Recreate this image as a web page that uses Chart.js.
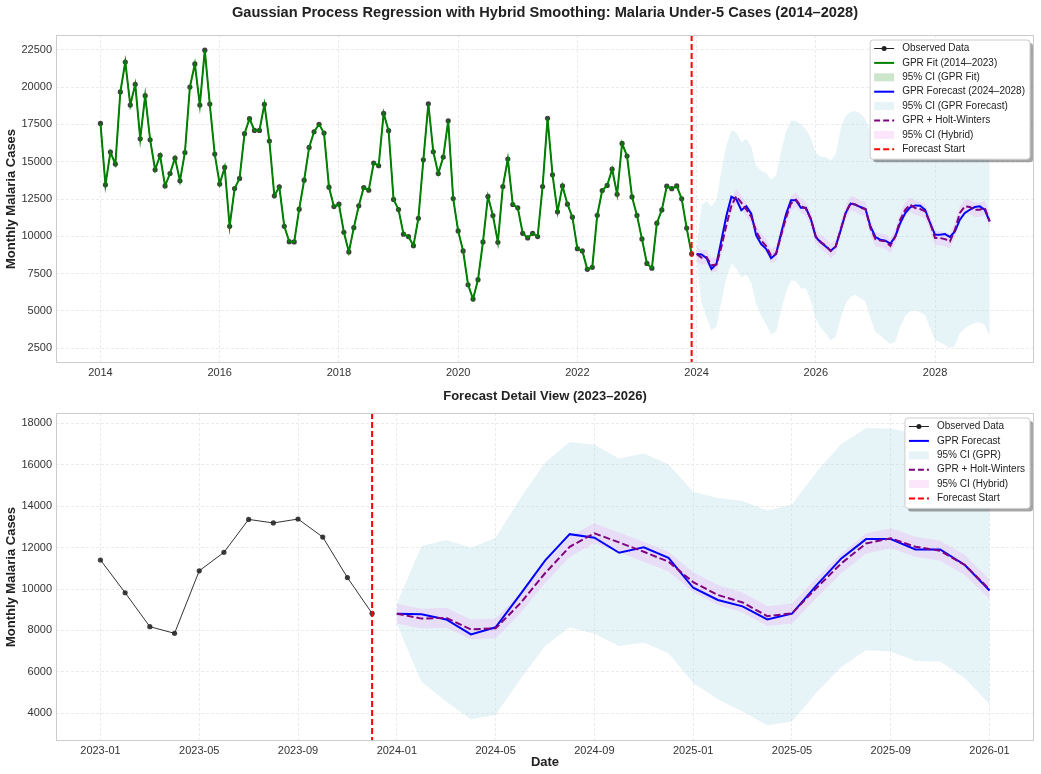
<!DOCTYPE html>
<html>
<head>
<meta charset="utf-8">
<script src="https://cdn.jsdelivr.net/npm/chart.js@4.4.1/dist/chart.umd.min.js"></script>
<style>
  body { margin: 0; background: #fff; }
  #wrap { position: relative; width: 1041px; height: 774px; }
  canvas { position: absolute; left: 0; }
</style>
</head>
<body>
<div id="wrap">
  <canvas id="overview" width="1041" height="380" style="top:0"></canvas>
  <canvas id="detail" width="1041" height="394" style="top:380px"></canvas>
</div>
<script>
// monthly observed cases, Jan 2014 .. Dec 2023
const observed = [
  17570, 13450, 15650, 14840, 19680, 21690, 18800, 20190, 16540, 19430, 16470, 14460,
  15420, 13380, 14210, 15240, 13720, 15620, 20010, 21560, 18800, 22480, 18870, 15510,
  13500, 14620, 10670, 13200, 13880, 16880, 17890, 17100, 17100, 18850, 16390, 12710,
  13320, 10670, 9640, 9620, 11820, 13760, 15960, 17010, 17510, 16920, 13290, 11990,
  12150, 10270, 8950, 10580, 12040, 13270, 13090, 14910, 14730, 18240, 17080, 12470,
  11790, 10140, 9980, 9370, 11210, 15130, 18890, 15670, 14210, 15310, 17750, 12530,
  10360, 9020, 6750, 5790, 7090, 9620, 12670, 11390, 9600, 13340, 15180, 12130,
  11910, 10200, 9890, 10200, 9980, 13340, 17910, 14120, 11640, 13380, 12150, 11280,
  9170, 9020, 7780, 7920, 11410, 13070, 13410, 14500, 12820, 16230, 15380, 12640,
  11400, 9820, 8180, 7860, 10880, 11770, 13360, 13190, 13380, 12510, 10550, 8820
];

// monthly forecast, Jan 2024 .. Dec 2028
const gprForecast = [
  8810, 8780, 8530, 7810, 8150, 9740, 11370, 12650, 12480, 11750, 12010, 11510,
  10060, 9470, 9160, 8530, 8810, 10190, 11480, 12410, 12410, 11910, 11910, 11160,
  9930, 9590, 9320, 9030, 9320, 10400, 11560, 12190, 12120, 11960, 11830, 10660,
  9950, 9770, 9700, 9500, 9990, 10890, 11560, 11940, 12070, 12050, 11780, 10890,
  10100, 10100, 10150, 9950, 10330, 11110, 11560, 11780, 11960, 12010, 11780, 11000
];
const gprUpper = [
  9300, 12080, 12370, 11990, 12470, 14380, 16100, 17100, 16970, 16300, 16540, 16020,
  14700, 14400, 14250, 13790, 14080, 15660, 17020, 17760, 17750, 17490, 17160, 16600,
  15600, 15330, 15300, 15100, 15480, 17210, 18060, 18330, 18400, 18240, 17840, 17000,
  16300, 16100, 16000, 15800, 16200, 17700, 18600, 19000, 19100, 18900, 18400, 17500,
  16700, 16600, 16600, 16400, 16900, 18000, 18900, 19300, 19400, 19300, 19000, 18100
];
const gprLower = [
  8300, 5520, 4570, 3710, 3930, 5640, 7250, 8150, 7840, 7250, 7420, 6900,
  5460, 4680, 4080, 3420, 3600, 5020, 6230, 7040, 6980, 6520, 6500, 5690,
  4440, 3870, 3490, 3020, 3270, 4500, 5510, 5950, 6070, 5840, 5620, 4500,
  3600, 3330, 3040, 2770, 2930, 3940, 4660, 4950, 5060, 4900, 4720, 3830,
  3040, 2890, 2710, 2530, 2660, 3490, 3830, 4050, 4190, 4230, 4050, 3270
];
const hybrid = [
  8810, 8570, 8610, 8050, 8100, 9310, 10760, 12040, 12690, 12250, 11800, 11320,
  10330, 9710, 9350, 8690, 8820, 10060, 11240, 12200, 12450, 12040, 11850, 11160,
  9980, 9620, 9370, 9000, 9300, 10450, 11560, 12230, 12120, 11900, 11830, 10550,
  9810, 9720, 9660, 9360, 9990, 11110, 11780, 12120, 11900, 11830, 11670, 10890,
  9880, 9880, 9810, 9660, 10440, 11560, 12010, 11960, 11780, 11780, 11900, 11000
];
const hybridUpper = [
  9290, 9050, 9090, 8530, 8580, 9790, 11240, 12520, 13170, 12730, 12280, 11800,
  10810, 10190, 9830, 9170, 9300, 10540, 11720, 12680, 12930, 12520, 12330, 11640,
  10460, 10100, 9850, 9480, 9780, 10930, 12040, 12710, 12600, 12380, 12310, 11030,
  10290, 10200, 10140, 9840, 10470, 11590, 12260, 12600, 12380, 12310, 12150, 11370,
  10360, 10360, 10290, 10140, 10920, 12040, 12490, 12440, 12260, 12260, 12380, 11480
];
const hybridLower = [
  8330, 8090, 8130, 7570, 7620, 8830, 10280, 11560, 12210, 11770, 11320, 10840,
  9850, 9230, 8870, 8210, 8340, 9580, 10760, 11720, 11970, 11560, 11370, 10680,
  9500, 9140, 8890, 8520, 8820, 9970, 11080, 11750, 11640, 11420, 11350, 10070,
  9330, 9240, 9180, 8880, 9510, 10630, 11300, 11640, 11420, 11350, 11190, 10410,
  9400, 9400, 9330, 9180, 9960, 11080, 11530, 11480, 11300, 11300, 11420, 10520
];

const topXTicks = [2014, 2016, 2018, 2020, 2022, 2024, 2026, 2028];
const topYTicks = [2500, 5000, 7500, 10000, 12500, 15000, 17500, 20000, 22500];
const detailXLabels = ['2023-01', '2023-05', '2023-09', '2024-01', '2024-05', '2024-09',
  '2025-01', '2025-05', '2025-09', '2026-01'];
const detailYTicks = [4000, 6000, 8000, 10000, 12000, 14000, 16000, 18000];
const detailForecastMonths = 25;   // Jan 2024 .. Jan 2026
const detailObserved = observed.slice(-12);  // 2023

const FONT = '"Liberation Sans", Arial, sans-serif';
Chart.defaults.font.family = FONT;
Chart.defaults.color = '#333';

const BLUE_CI = 'rgba(173, 216, 230, 0.3)';
const PINK_CI = 'rgba(238, 130, 238, 0.2)';
const GREEN_CI = 'rgba(0, 128, 0, 0.2)';

// month index -> x value
const toYearX = (start) => (v, i) => ({ x: start + i / 12, y: v });
const toMonthX = (start) => (v, i) => ({ x: start + i, y: v });

function roundRect(ctx, x, y, w, h, r) {
  ctx.beginPath();
  ctx.moveTo(x + r, y);
  ctx.arcTo(x + w, y, x + w, y + h, r);
  ctx.arcTo(x + w, y + h, x, y + h, r);
  ctx.arcTo(x, y + h, x, y, r);
  ctx.arcTo(x, y, x + w, y, r);
  ctx.closePath();
}

function drawLegend(ctx, area, items) {
  ctx.save();
  ctx.font = '10px ' + FONT;
  const rowH = 14.4, handleW = 20, padL = 4, gap = 8, padR = 5;
  const textW = Math.max(...items.map(it => ctx.measureText(it.label).width));
  const w = padL + handleW + gap + textW + padR;
  const h = items.length * rowH + 4;
  const x0 = area.right - 4 - w, y0 = area.top + 5;

  ctx.fillStyle = 'rgba(0,0,0,0.35)';
  roundRect(ctx, x0 + 3, y0 + 3, w, h, 3);
  ctx.fill();
  ctx.fillStyle = '#fff';
  roundRect(ctx, x0, y0, w, h, 3);
  ctx.fill();
  ctx.strokeStyle = '#cccccc';
  ctx.lineWidth = 1;
  ctx.stroke();

  items.forEach((it, i) => {
    const cy = y0 + 8.5 + i * rowH;
    const hx = x0 + padL;
    if (it.type === 'rect') {
      ctx.fillStyle = it.color;
      ctx.fillRect(hx, cy - 4, handleW, 8);
    } else {
      ctx.strokeStyle = it.color;
      ctx.lineWidth = it.width;
      ctx.setLineDash(it.dash || []);
      ctx.beginPath();
      ctx.moveTo(hx, cy);
      ctx.lineTo(hx + handleW, cy);
      ctx.stroke();
      ctx.setLineDash([]);
      if (it.marker) {
        ctx.fillStyle = '#222';
        ctx.beginPath();
        ctx.arc(hx + handleW / 2, cy, 2.5, 0, Math.PI * 2);
        ctx.fill();
      }
    }
    ctx.fillStyle = '#222';
    ctx.textAlign = 'left';
    ctx.textBaseline = 'middle';
    ctx.fillText(it.label, hx + handleW + gap, cy);
  });
  ctx.restore();
}

const decorPlugin = {
  id: 'decor',
  afterDatasetsDraw(chart, args, opts) {
    const { ctx, chartArea: a, scales } = chart;
    // forecast start line
    const x = scales.x.getPixelForValue(opts.vline);
    ctx.save();
    ctx.beginPath();
    ctx.rect(a.left, a.top, a.width, a.height);
    ctx.clip();
    ctx.strokeStyle = '#ff0000';
    ctx.lineWidth = 2;
    ctx.setLineDash([6, 3]);
    ctx.beginPath();
    ctx.moveTo(x, a.top);
    ctx.lineTo(x, a.bottom);
    ctx.stroke();
    ctx.restore();

    // axes frame
    ctx.save();
    ctx.strokeStyle = '#cccccc';
    ctx.lineWidth = 1;
    ctx.strokeRect(a.left + 0.5, a.top + 0.5, a.width - 1, a.height - 1);
    ctx.restore();

    drawLegend(ctx, a, opts.legend);

    ctx.save();
    ctx.fillStyle = '#222';
    ctx.font = 'bold ' + opts.titleSize + 'px ' + FONT;
    ctx.textAlign = 'center';
    ctx.textBaseline = 'middle';
    ctx.fillText(opts.title, (a.left + a.right) / 2, opts.titleY);
    ctx.restore();
  }
};

const grid = { color: '#ebebeb', lineWidth: 1, drawTicks: false };
const border = { display: false, dash: [3, 2] };
const yTitle = { display: true, text: 'Monthly Malaria Cases', color: '#222',
  font: { size: 13, weight: 'bold' }, padding: { top: 4, bottom: 4 } };

function lineDs(label, data, color, width, order, extra) {
  return Object.assign({ label, data, borderColor: color, borderWidth: width,
    pointRadius: 0, tension: 0, fill: false, order }, extra || {});
}

// ---------- overview ----------
new Chart(document.getElementById('overview'), {
  type: 'line',
  data: {
    datasets: [
      lineDs('gprLower', gprLower.map(toYearX(2024)), 'transparent', 0, 11),
      lineDs('95% CI (GPR Forecast)', gprUpper.map(toYearX(2024)), 'transparent', 0, 10,
        { fill: '-1', backgroundColor: BLUE_CI }),
      lineDs('hybridLower', hybridLower.map(toYearX(2024)), 'transparent', 0, 9),
      lineDs('95% CI (Hybrid)', hybridUpper.map(toYearX(2024)), 'transparent', 0, 8,
        { fill: '-1', backgroundColor: PINK_CI }),
      lineDs('Observed Data', observed.map(toYearX(2014)), 'rgba(0,0,0,0.8)', 1, 6,
        { pointRadius: 2.6, pointBackgroundColor: 'rgba(30,30,30,0.85)', pointBorderWidth: 0 }),
      lineDs('GPR Fit (2014–2023)', observed.map(toYearX(2014)), '#008000', 2, 5),
      lineDs('GPR Forecast (2024–2028)', gprForecast.map(toYearX(2024)), '#0000ff', 2, 4),
      lineDs('GPR + Holt-Winters', hybrid.map(toYearX(2024)), '#800080', 2, 3,
        { borderDash: [7, 3] })
    ]
  },
  options: {
    responsive: false,
    animation: false,
    layout: { padding: { top: 35, right: 7, left: 0, bottom: 0 } },
    scales: {
      x: {
        type: 'linear', min: 2013.254, max: 2029.66,
        afterBuildTicks: s => { s.ticks = topXTicks.map(v => ({ value: v })); },
        afterFit: s => { s.height = 17; },
        ticks: { font: { size: 11 }, padding: 3, maxRotation: 0, autoSkip: false,
          callback: v => String(v) },
        grid, border
      },
      y: {
        type: 'linear', min: 1500, max: 23500,
        afterBuildTicks: s => { s.ticks = topYTicks.map(v => ({ value: v })); },
        afterFit: s => { s.width = 56; },
        ticks: { font: { size: 11 }, padding: 4, callback: v => String(v) },
        title: yTitle,
        grid, border
      }
    },
    plugins: {
      legend: { display: false },
      tooltip: { enabled: false },
      decor: {
        vline: 2014 + 119 / 12,
        title: 'Gaussian Process Regression with Hybrid Smoothing: Malaria Under-5 Cases (2014–2028)',
        titleY: 13, titleSize: 14.6,
        legend: [
          { label: 'Observed Data', color: '#222', width: 1, marker: true },
          { label: 'GPR Fit (2014–2023)', color: '#008000', width: 2 },
          { label: '95% CI (GPR Fit)', type: 'rect', color: GREEN_CI },
          { label: 'GPR Forecast (2024–2028)', color: '#0000ff', width: 2 },
          { label: '95% CI (GPR Forecast)', type: 'rect', color: BLUE_CI },
          { label: 'GPR + Holt-Winters', color: '#800080', width: 2, dash: [6, 3] },
          { label: '95% CI (Hybrid)', type: 'rect', color: PINK_CI },
          { label: 'Forecast Start', color: '#ff0000', width: 2, dash: [6, 3] }
        ]
      }
    }
  },
  plugins: [decorPlugin]
});

// ---------- detail (month index 0 = Jan 2023) ----------
const cut = a => a.slice(0, detailForecastMonths).map(toMonthX(12));

new Chart(document.getElementById('detail'), {
  type: 'line',
  data: {
    datasets: [
      lineDs('gprLower', cut(gprLower), 'transparent', 0, 11),
      lineDs('95% CI (GPR)', cut(gprUpper), 'transparent', 0, 10,
        { fill: '-1', backgroundColor: BLUE_CI }),
      lineDs('hybridLower', cut(hybridLower), 'transparent', 0, 9),
      lineDs('95% CI (Hybrid)', cut(hybridUpper), 'transparent', 0, 8,
        { fill: '-1', backgroundColor: PINK_CI }),
      lineDs('Observed Data', detailObserved.map(toMonthX(0)), 'rgba(0,0,0,0.8)', 1, 6,
        { pointRadius: 2.6, pointBackgroundColor: 'rgba(30,30,30,0.85)', pointBorderWidth: 0 }),
      lineDs('GPR Forecast', cut(gprForecast), '#0000ff', 2, 4),
      lineDs('GPR + Holt-Winters', cut(hybrid), '#800080', 2, 3, { borderDash: [7, 3] })
    ]
  },
  options: {
    responsive: false,
    animation: false,
    layout: { padding: { top: 33, right: 7, left: 0, bottom: 0 } },
    scales: {
      x: {
        type: 'linear', min: -1.8, max: 37.8,
        afterBuildTicks: s => { s.ticks = detailXLabels.map((l, i) => ({ value: i * 4 })); },
        afterFit: s => { s.height = 33; },
        ticks: { font: { size: 11 }, padding: 3, maxRotation: 0, autoSkip: false,
          callback: v => detailXLabels[v / 4] },
        title: { display: true, text: 'Date', color: '#222',
          font: { size: 13, weight: 'bold' }, padding: { top: 2, bottom: 4 } },
        grid, border
      },
      y: {
        type: 'linear', min: 2660, max: 18500,
        afterBuildTicks: s => { s.ticks = detailYTicks.map(v => ({ value: v })); },
        afterFit: s => { s.width = 56; },
        ticks: { font: { size: 11 }, padding: 4, callback: v => String(v) },
        title: yTitle,
        grid, border
      }
    },
    plugins: {
      legend: { display: false },
      tooltip: { enabled: false },
      decor: {
        vline: 11,
        title: 'Forecast Detail View (2023–2026)',
        titleY: 16, titleSize: 13,
        legend: [
          { label: 'Observed Data', color: '#222', width: 1, marker: true },
          { label: 'GPR Forecast', color: '#0000ff', width: 2 },
          { label: '95% CI (GPR)', type: 'rect', color: BLUE_CI },
          { label: 'GPR + Holt-Winters', color: '#800080', width: 2, dash: [6, 3] },
          { label: '95% CI (Hybrid)', type: 'rect', color: PINK_CI },
          { label: 'Forecast Start', color: '#ff0000', width: 2, dash: [6, 3] }
        ]
      }
    }
  },
  plugins: [decorPlugin]
});
</script>
</body>
</html>
